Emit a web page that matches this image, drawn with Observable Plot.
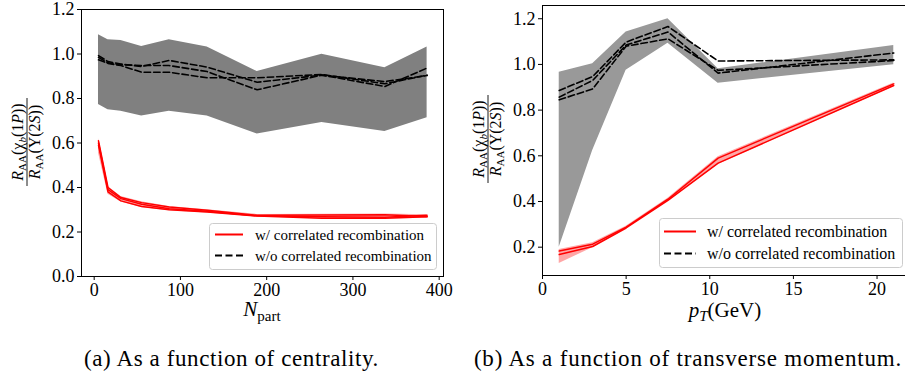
<!DOCTYPE html>
<html><head><meta charset="utf-8">
<script src="https://cdn.jsdelivr.net/npm/d3@7"></script>
<script src="https://cdn.jsdelivr.net/npm/@observablehq/plot@0.6"></script>
<style>
html,body{margin:0;padding:0;background:#fff;overflow:hidden;}
#wrap{position:relative;width:905px;height:372px;overflow:hidden;font-family:"Liberation Serif","DejaVu Serif",serif;}
#wrap > svg{position:absolute;}
#wrap svg text{font-family:"Liberation Serif","DejaVu Serif",serif;}
</style></head><body><div id="wrap"></div>
<script>
// ---- Panel (a): centrality ----
const npart = [5, 16, 31, 55, 87, 131, 189, 264, 337, 386];
const nTicks = [0, 100, 200, 300, 400];
const centBandHi = [1.086, 1.064, 1.061, 1.034, 1.064, 1.031, 0.921, 0.999, 0.938, 1.031];
const centBandLo = [0.773, 0.749, 0.743, 0.721, 0.743, 0.721, 0.641, 0.692, 0.652, 0.713];
const centDashA = [0.993, 0.966, 0.955, 0.944, 0.971, 0.941, 0.873, 0.905, 0.876, 0.903];
const centDashB = [0.985, 0.960, 0.952, 0.948, 0.948, 0.921, 0.839, 0.905, 0.854, 0.937];
const centDashC = [0.974, 0.958, 0.948, 0.918, 0.918, 0.893, 0.893, 0.908, 0.866, 0.905];
const centRedHi = [0.620, 0.405, 0.360, 0.336, 0.315, 0.300, 0.279, 0.280, 0.281, 0.278];
const centRedLo = [0.555, 0.370, 0.335, 0.310, 0.295, 0.285, 0.268, 0.258, 0.258, 0.262];
const centRed1 = [0.610, 0.400, 0.355, 0.332, 0.312, 0.298, 0.275, 0.276, 0.278, 0.270];
const centRed2 = [0.600, 0.390, 0.350, 0.325, 0.305, 0.293, 0.273, 0.268, 0.266, 0.275];
const centRed3 = [0.590, 0.380, 0.340, 0.315, 0.300, 0.290, 0.272, 0.262, 0.262, 0.268];
const yTicksA = [0, 0.2, 0.4, 0.6, 0.8, 1.0, 1.2];

// ---- Panel (b): transverse momentum ----
const pt = [1, 3, 5, 7.5, 10.5, 21];
const ptTicks = [0, 5, 10, 15, 20];
const ptBandHi = [0.966, 1.003, 1.142, 1.200, 0.981, 1.083];
const ptBandLo = [0.200, 0.623, 0.974, 1.093, 0.918, 0.999];
const ptDash1 = [0.886, 0.947, 1.098, 1.166, 1.015, 1.020];
const ptDash2 = [0.857, 0.930, 1.085, 1.142, 0.962, 1.050];
const ptDash3 = [0.845, 0.893, 1.080, 1.112, 0.974, 1.017];
const ptRedHi = [0.190, 0.219, 0.292, 0.414, 0.596, 0.919];
const ptRedLo = [0.128, 0.198, 0.281, 0.401, 0.562, 0.902];
const ptRed1 = [0.183, 0.213, 0.288, 0.410, 0.590, 0.915];
const ptRed2 = [0.168, 0.203, 0.284, 0.405, 0.568, 0.908];
const yTicksB = [0.2, 0.4, 0.6, 0.8, 1.0, 1.2];

const legendLabels = ["w/ correlated recombination", "w/o correlated recombination"];
const captions = ["(a) As a function of centrality.", "(b) As a function of transverse momentum."];

const series = (xs, ys) => xs.map((x, i) => ({x, y: ys[i]}));
const band = (xs, lo, hi) => xs.map((x, i) => ({x, y1: lo[i], y2: hi[i]}));
const FONT = '"Liberation Serif", "DejaVu Serif", serif';
const style = {fontFamily: FONT, fontSize: "18px", color: "black", background: "transparent", overflow: "visible"};
const dashStyle = {x: "x", y: "y", stroke: "black", strokeWidth: 1.6, strokeDasharray: "6.5,3"};
const redStyle = {x: "x", y: "y", stroke: "#ff0000", strokeWidth: 1.5};

const left = Plot.plot({
  width: 460, height: 330, marginLeft: 81, marginRight: 17, marginTop: 9, marginBottom: 54,
  x: {domain: [-14.7, 405]},
  y: {domain: [0, 1.2]},
  style,
  marks: [
    Plot.areaY(band(npart, centBandLo, centBandHi), {x: "x", y1: "y1", y2: "y2", fill: "#808080"}),
    ...[centDashA, centDashB, centDashC].map(d => Plot.lineY(series(npart, d), dashStyle)),
    Plot.areaY(band(npart, centRedLo, centRedHi), {x: "x", y1: "y1", y2: "y2", fill: "#ff0000", fillOpacity: 0.35}),
    ...[centRed1, centRed2, centRed3].map(d => Plot.lineY(series(npart, d), redStyle)),
    Plot.frame({stroke: "black", strokeWidth: 1}),
    Plot.axisX({ticks: nTicks, tickSize: 4, tickPadding: 3, label: null, fontSize: 18}),
    Plot.axisY({ticks: yTicksA, tickFormat: d3.format(".1f"), tickSize: 4, tickPadding: 3, label: null, fontSize: 18})
  ]
});

const right = Plot.plot({
  width: 450, height: 330, marginLeft: 82, marginRight: 0, marginTop: 5, marginBottom: 55,
  x: {domain: [0, 22]},
  y: {domain: [0.076, 1.258]},
  style,
  marks: [
    Plot.areaY(band(pt, ptBandLo, ptBandHi), {x: "x", y1: "y1", y2: "y2", fill: "#999999"}),
    ...[ptDash1, ptDash2, ptDash3].map(d => Plot.lineY(series(pt, d), dashStyle)),
    Plot.areaY(band(pt, ptRedLo, ptRedHi), {x: "x", y1: "y1", y2: "y2", fill: "#ff0000", fillOpacity: 0.35}),
    ...[ptRed1, ptRed2].map(d => Plot.lineY(series(pt, d), redStyle)),
    Plot.frame({stroke: "black", strokeWidth: 1}),
    Plot.axisX({ticks: ptTicks, tickSize: 4, tickPadding: 3, label: null, fontSize: 18}),
    Plot.axisY({ticks: yTicksB, tickFormat: d3.format(".1f"), tickSize: 4, tickPadding: 3, label: null, fontSize: 18})
  ]
});

const wrap = document.getElementById("wrap");
left.style.left = "0px"; left.style.top = "0px";
right.style.left = "460px"; right.style.top = "0px";
wrap.appendChild(left);
wrap.appendChild(right);

// ---- overlay: labels, legends, captions ----
const ov = d3.create("svg").attr("width", 905).attr("height", 372)
  .style("left", "0px").style("top", "0px").style("position", "absolute")
  .style("font-family", FONT);

function yLabel(cx, cy) {
  const g = ov.append("g").attr("transform", `translate(${cx},${cy}) rotate(-90)`).attr("font-size", 16);
  const num = g.append("text").attr("x", 0).attr("y", -4.5).attr("text-anchor", "middle");
  num.append("tspan").attr("font-style", "italic").text("R");
  num.append("tspan").attr("font-size", 11).attr("dy", 3).text("AA");
  num.append("tspan").attr("dy", -3).text("(χ");
  num.append("tspan").attr("font-size", 11).attr("font-style", "italic").attr("dy", 3).text("b");
  num.append("tspan").attr("dy", -3).text("(1");
  num.append("tspan").attr("font-style", "italic").text("P");
  num.append("tspan").text("))");
  g.append("line").attr("x1", -44).attr("x2", 44).attr("y1", 0).attr("y2", 0).attr("stroke", "black").attr("stroke-width", 0.9);
  const den = g.append("text").attr("x", 0).attr("y", 13).attr("text-anchor", "middle");
  den.append("tspan").attr("font-style", "italic").text("R");
  den.append("tspan").attr("font-size", 11).attr("dy", 3).text("AA");
  den.append("tspan").attr("dy", -3).text("(Υ(2");
  den.append("tspan").attr("font-style", "italic").text("S");
  den.append("tspan").text("))");
}
yLabel(27, 142);
yLabel(488, 139);

// x labels
{
  const t = ov.append("text").attr("x", 262).attr("y", 316).attr("text-anchor", "middle").attr("font-size", 21);
  t.append("tspan").attr("font-style", "italic").text("N");
  t.append("tspan").attr("font-size", 15).attr("dy", 5).text("part");
  const u = ov.append("text").attr("x", 725).attr("y", 317).attr("text-anchor", "middle").attr("font-size", 21);
  u.append("tspan").attr("font-style", "italic").text("p");
  u.append("tspan").attr("font-size", 15).attr("font-style", "italic").attr("dy", 4).text("T");
  u.append("tspan").attr("dy", -4).text("(GeV)");
}

function legend(bx, by, bw, bh, sx0, sx1, tx, rows, fs) {
  ov.append("rect").attr("x", bx).attr("y", by).attr("width", bw).attr("height", bh).attr("rx", 3)
    .attr("fill", "white").attr("fill-opacity", 0.8).attr("stroke", "#cccccc").attr("stroke-width", 1);
  ov.append("line").attr("x1", sx0).attr("x2", sx1).attr("y1", rows[0]).attr("y2", rows[0])
    .attr("stroke", "#ff0000").attr("stroke-width", 2);
  ov.append("line").attr("x1", sx0).attr("x2", sx1).attr("y1", rows[1]).attr("y2", rows[1])
    .attr("stroke", "black").attr("stroke-width", 2).attr("stroke-dasharray", "7,3.5");
  legendLabels.forEach((s, i) => ov.append("text").attr("x", tx).attr("y", rows[i] + 5).attr("font-size", fs).text(s));
}
legend(209.5, 223.5, 227, 46, 215, 243, 255, [234.5, 255.5], 15);
legend(659.5, 218.5, 243, 49, 664, 696, 707, [231.5, 253.5], 16);

// captions
ov.append("text").attr("x", 231.5).attr("y", 366).attr("text-anchor", "middle").attr("font-size", 23)
  .attr("letter-spacing", 0.6).text(captions[0]);
ov.append("text").attr("x", 688).attr("y", 366).attr("text-anchor", "middle").attr("font-size", 23)
  .attr("letter-spacing", 0.8).text(captions[1]);

wrap.appendChild(ov.node());
</script></body></html>
